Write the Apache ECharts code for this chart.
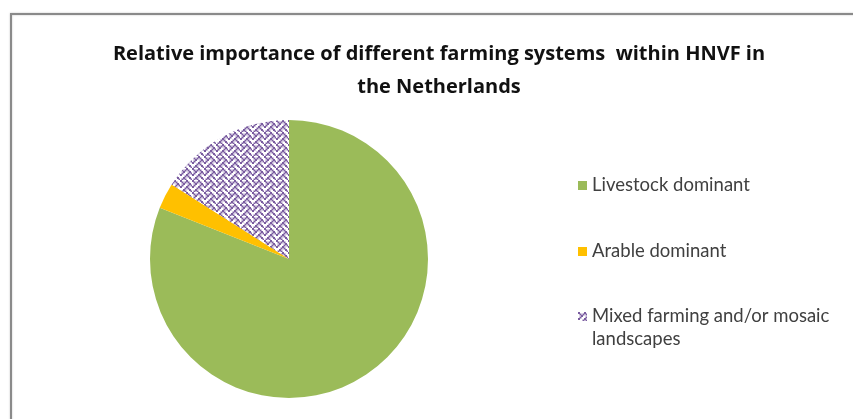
<!DOCTYPE html>
<html><head><meta charset="utf-8">
<script src="https://cdn.jsdelivr.net/npm/echarts@6/dist/echarts.min.js"></script>
<style>html,body{margin:0;padding:0;background:#fff}#c{width:853px;height:419px}</style>
</head><body><div id="c"></div>
<script>
const titleLines = ['Relative importance of different farming systems  within HNVF in', 'the Netherlands'];
const categories = ['Livestock dominant', 'Arable dominant', 'Mixed farming and/or mosaic landscapes'];
const values = [81, 3, 16];

function weaveTile() {
  const bits = [0x88, 0x54, 0x22, 0x45, 0x88, 0x14, 0x22, 0x51];
  const s = 1.5, c = document.createElement('canvas');
  c.width = 12; c.height = 12;
  const g = c.getContext('2d');
  g.fillStyle = '#fff'; g.fillRect(0, 0, 12, 12);
  g.fillStyle = '#7a5ca0';
  for (let r = 0; r < 8; r++) for (let k = 0; k < 8; k++)
    if (bits[r] & (0x80 >> k)) g.fillRect(k * s, r * s, 2, 2);
  return c;
}
const colors = ['#9BBB59', '#FFC000', { image: weaveTile(), repeat: 'repeat' }];

const chart = echarts.init(document.getElementById('c'), null, { renderer: 'canvas' });
const legendText = { fontFamily: 'Lato', fontSize: 18.5, color: '#404040', lineHeight: 23 };
chart.setOption({
  animation: false,
  title: {
    text: titleLines.join('\n'),
    left: 439, textAlign: 'center', top: 37.5, padding: 0,
    textStyle: { fontFamily: 'Open Sans', fontWeight: 'bold', fontSize: 20, color: '#111', lineHeight: 33 }
  },
  graphic: [{
    type: 'rect', silent: true,
    shape: { x: 11, y: 14, width: 900, height: 450 },
    style: { fill: 'none', stroke: '#8a8a8a', lineWidth: 2, shadowBlur: 2, shadowColor: 'rgba(0,0,0,0.25)' }
  }],
  legend: [{
    orient: 'vertical', left: 578, top: 174, padding: 0,
    itemWidth: 9, itemHeight: 9, itemGap: 43, icon: 'rect', selectedMode: false,
    data: [categories[0], categories[1]],
    textStyle: legendText
  }, {
    orient: 'vertical', left: 578, top: 282, padding: 0,
    itemWidth: 9, itemHeight: 9, icon: 'rect', selectedMode: false,
    data: [categories[2]],
    formatter: n => '\n' + n.replace('mosaic ', 'mosaic\n'),
    textStyle: legendText
  }],
  series: [{
    type: 'pie', center: [289, 259], radius: 139, startAngle: 90, clockwise: true,
    label: { show: false }, labelLine: { show: false }, emphasis: { disabled: true },
    data: categories.map((n, i) => ({ name: n, value: values[i], itemStyle: { color: colors[i] } }))
  }]
});
</script></body></html>
